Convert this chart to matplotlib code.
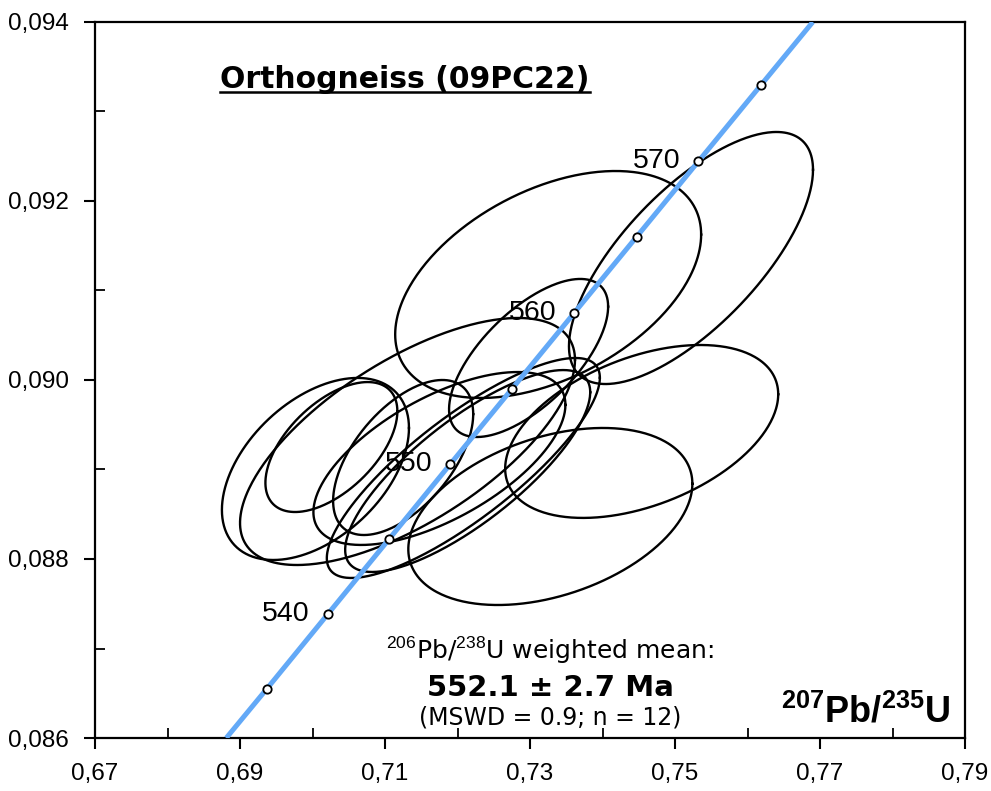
#!/usr/bin/env python3
"""
U-Pb concordia diagram for orthogneiss sample 09PC22
"""

import numpy as np
import matplotlib
matplotlib.use('Agg')
import matplotlib.pyplot as plt
from matplotlib.ticker import FuncFormatter

# Concordia reference points (age in Ma, 207Pb/235U, 206Pb/238U)
ages = [535, 540, 545, 550, 555, 560, 565, 570, 575]
conc_x = [0.6937, 0.7021, 0.7105, 0.7190, 0.7275, 0.7361, 0.7447, 0.7532, 0.7619]
conc_y = [0.08655, 0.08738, 0.08822, 0.08906, 0.08990, 0.09075, 0.09160, 0.09245, 0.09330]
labelled_ages = [540, 550, 560, 570]

# Concordia curve ends at the plot frame
curve_x = [0.6881, 0.6937, 0.7190, 0.7447, 0.7619, 0.7690]
curve_y = [0.0860, 0.08655, 0.08906, 0.09160, 0.09330, 0.0940]

# Spot analyses: ratio, 2-sigma half-widths and error correlation
pb207_u235 = [0.7522, 0.7325, 0.7298, 0.7454, 0.7328, 0.7004,
              0.7131, 0.7026, 0.7175, 0.7208, 0.7125, 0.7214]
err_207 = [0.01683, 0.02110, 0.01097, 0.01883, 0.01959, 0.01290,
           0.02310, 0.00910, 0.01738, 0.01883, 0.00966, 0.01690]
pb206_u238 = [0.091363, 0.091067, 0.090246, 0.089425, 0.088475, 0.089006,
              0.089313, 0.089251, 0.089123, 0.089017, 0.089134, 0.088983]
err_206 = [0.001408, 0.001268, 0.000883, 0.000966, 0.000989, 0.001017,
           0.001380, 0.000726, 0.000966, 0.001229, 0.000866, 0.001128]
rho = [0.70, 0.44, 0.65, 0.43, 0.37, 0.45, 0.66, 0.55, 0.62, 0.82, 0.56, 0.78]

x_major = [0.67, 0.69, 0.71, 0.73, 0.75, 0.77, 0.79]
x_minor = [0.68, 0.70, 0.72, 0.74, 0.76, 0.78]
y_major = [0.086, 0.088, 0.090, 0.092, 0.094]
y_minor = [0.087, 0.089, 0.091, 0.093]

plt.rcParams['mathtext.fontset'] = 'custom'
plt.rcParams['mathtext.rm'] = 'Liberation Sans'
plt.rcParams['mathtext.bf'] = 'Liberation Sans:bold'

fig = plt.figure(figsize=(9.91, 7.91), dpi=100)
ax = fig.add_axes([0.0959, 0.0670, 0.8779, 0.9052])

# error ellipses
t = np.linspace(0, 2 * np.pi, 361)
for x0, sx, y0, sy, r in zip(pb207_u235, err_207, pb206_u238, err_206, rho):
    ex = x0 + sx * np.cos(t)
    ey = y0 + sy * (r * np.cos(t) + np.sqrt(1 - r ** 2) * np.sin(t))
    ax.plot(ex, ey, color='black', linewidth=1.7, zorder=2)

# concordia
ax.plot(curve_x, curve_y, color='#63a9f7', linewidth=3.6, zorder=3,
        solid_capstyle='butt')
ax.plot(conc_x, conc_y, linestyle='none', marker='o', markersize=6,
        markerfacecolor='white', markeredgecolor='black', markeredgewidth=1.3,
        zorder=4)

for age, x, y in zip(ages, conc_x, conc_y):
    if age in labelled_ages:
        ax.annotate(str(age), (x, y), xytext=(-13, 0), textcoords='offset points',
                    ha='right', va='center', fontsize=20.5,
                    family='Liberation Sans', zorder=5)

ax.set_xlim(0.67, 0.79)
ax.set_ylim(0.086, 0.094)

ax.set_xticks(x_major)
ax.set_xticks(x_minor, minor=True)
ax.set_yticks(y_major)
ax.set_yticks(y_minor, minor=True)

comma = lambda fmt: FuncFormatter(lambda v, p: (fmt % v).replace('.', ','))
ax.xaxis.set_major_formatter(comma('%.2f'))
ax.yaxis.set_major_formatter(comma('%.3f'))

ax.tick_params(which='major', direction='out', length=8, width=1.5,
               labelsize=17.5)
ax.tick_params(which='minor', direction='in', length=7, width=1.3)
ax.tick_params(axis='x', which='major', pad=10)
ax.tick_params(axis='y', which='major', pad=11)
for lbl in ax.get_xticklabels() + ax.get_yticklabels():
    lbl.set_family('Liberation Sans')

for side in ax.spines.values():
    side.set_linewidth(1.6)

# annotations
title = ax.text(0.1442, 0.92, 'Orthogneiss (09PC22)', transform=ax.transAxes,
                ha='left', va='center', fontsize=21.5, fontweight='bold',
                family='DejaVu Sans')

ax.text(0.523, 0.122, r'$^{206}$Pb/$^{238}$U weighted mean:', transform=ax.transAxes,
        ha='center', va='center', fontsize=18, family='DejaVu Sans')
ax.text(0.523, 0.070, '552.1 ± 2.7 Ma', transform=ax.transAxes,
        ha='center', va='center', fontsize=21, fontweight='bold',
        family='DejaVu Sans')
ax.text(0.523, 0.028, '(MSWD = 0.9; n = 12)', transform=ax.transAxes,
        ha='center', va='center', fontsize=17, family='DejaVu Sans')
ax.text(0.983, 0.012, r'$\mathbf{^{207}Pb/^{235}U}$', transform=ax.transAxes,
        ha='right', va='bottom', fontsize=26)

# underline the sample name
fig.canvas.draw()
bb = title.get_window_extent().transformed(ax.transAxes.inverted())
ax.plot([bb.x0, bb.x1], [bb.y0 + 0.002, bb.y0 + 0.002], transform=ax.transAxes,
        color='black', linewidth=1.8, clip_on=False)

fig.savefig('out.png', dpi=100)
